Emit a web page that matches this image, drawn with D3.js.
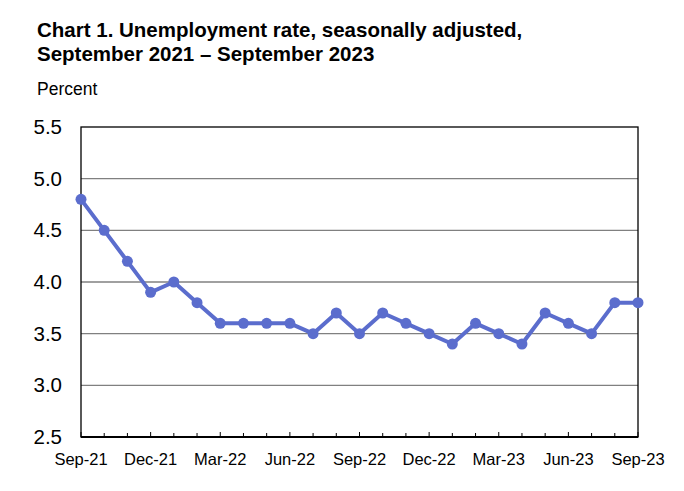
<!DOCTYPE html>
<html>
<head>
<meta charset="utf-8">
<script src="https://cdn.jsdelivr.net/npm/d3@7"></script>
<style>
  body { margin: 0; background: #fff; }
  text { font-family: "Liberation Sans", Arial, sans-serif; }
</style>
</head>
<body>
<div id="chart"></div>
<script>
// Monthly unemployment rate, Sep 2021 - Sep 2023
const months = ["Sep-21","Oct-21","Nov-21","Dec-21","Jan-22","Feb-22","Mar-22","Apr-22","May-22",
  "Jun-22","Jul-22","Aug-22","Sep-22","Oct-22","Nov-22","Dec-22","Jan-23","Feb-23","Mar-23",
  "Apr-23","May-23","Jun-23","Jul-23","Aug-23","Sep-23"];
const rates = [4.8, 4.5, 4.2, 3.9, 4.0, 3.8, 3.6, 3.6, 3.6, 3.6, 3.5, 3.7, 3.5, 3.7, 3.6, 3.5,
  3.4, 3.6, 3.5, 3.4, 3.7, 3.6, 3.5, 3.8, 3.8];
const yTicks = [2.5, 3.0, 3.5, 4.0, 4.5, 5.0, 5.5];
const xLabels = ["Sep-21","Dec-21","Mar-22","Jun-22","Sep-22","Dec-22","Mar-23","Jun-23","Sep-23"];

const width = 684, height = 491;
const plotLeft = 81, plotRight = 638, plotTop = 127, plotBottom = 437;

const svg = d3.select("#chart").append("svg")
    .attr("width", width)
    .attr("height", height);

const x = d3.scalePoint().domain(months).range([plotLeft, plotRight]);
const y = d3.scaleLinear().domain([2.5, 5.5]).range([plotBottom, plotTop]);

// Title
svg.append("text").attr("x", 37).attr("y", 36.5)
    .attr("font-size", 20.5).attr("font-weight", "bold")
    .text("Chart 1. Unemployment rate, seasonally adjusted,");
svg.append("text").attr("x", 37).attr("y", 61)
    .attr("font-size", 20.5).attr("font-weight", "bold")
    .text("September 2021 \u2013 September 2023");
svg.append("text").attr("x", 37).attr("y", 95)
    .attr("font-size", 17.5).text("Percent");

// Gridlines
svg.append("g").selectAll("line")
    .data(yTicks.filter(d => d > 2.5 && d < 5.5))
    .enter().append("line")
    .attr("x1", plotLeft).attr("x2", plotRight)
    .attr("y1", d => y(d)).attr("y2", d => y(d))
    .attr("stroke", "#808080").attr("stroke-width", 1.3);

// Y labels
svg.append("g").selectAll("text")
    .data(yTicks)
    .enter().append("text")
    .attr("x", 62).attr("y", d => y(d) + 7)
    .attr("text-anchor", "end").attr("font-size", 20.5)
    .text(d => d.toFixed(1));

// Month ticks on the bottom axis (pointing up)
svg.append("g").selectAll("line")
    .data(months)
    .enter().append("line")
    .attr("x1", d => x(d)).attr("x2", d => x(d))
    .attr("y1", plotBottom)
    .attr("y2", (d, i) => plotBottom - (i % 3 === 0 ? 5 : 4))
    .attr("stroke", "#000").attr("stroke-width", 1);

// X labels
svg.append("g").selectAll("text")
    .data(xLabels)
    .enter().append("text")
    .attr("x", d => x(d)).attr("y", 465)
    .attr("text-anchor", "middle").attr("font-size", 16.5)
    .text(d => d);

// Plot frame
svg.append("rect")
    .attr("x", plotLeft).attr("y", plotTop)
    .attr("width", plotRight - plotLeft).attr("height", plotBottom - plotTop)
    .attr("fill", "none").attr("stroke", "#000").attr("stroke-width", 1.3);
svg.append("line")
    .attr("x1", plotLeft).attr("x2", plotRight)
    .attr("y1", plotBottom).attr("y2", plotBottom)
    .attr("stroke", "#000").attr("stroke-width", 2);

// Series line and markers
const color = "#5b6dcd";
svg.append("path")
    .datum(rates)
    .attr("d", d3.line().x((d, i) => x(months[i])).y(d => y(d)))
    .attr("fill", "none").attr("stroke", color).attr("stroke-width", 4)
    .attr("stroke-linejoin", "round");

svg.append("g").selectAll("circle")
    .data(rates)
    .enter().append("circle")
    .attr("cx", (d, i) => x(months[i]))
    .attr("cy", d => y(d))
    .attr("r", 5.5)
    .attr("fill", color);
</script>
</body>
</html>
